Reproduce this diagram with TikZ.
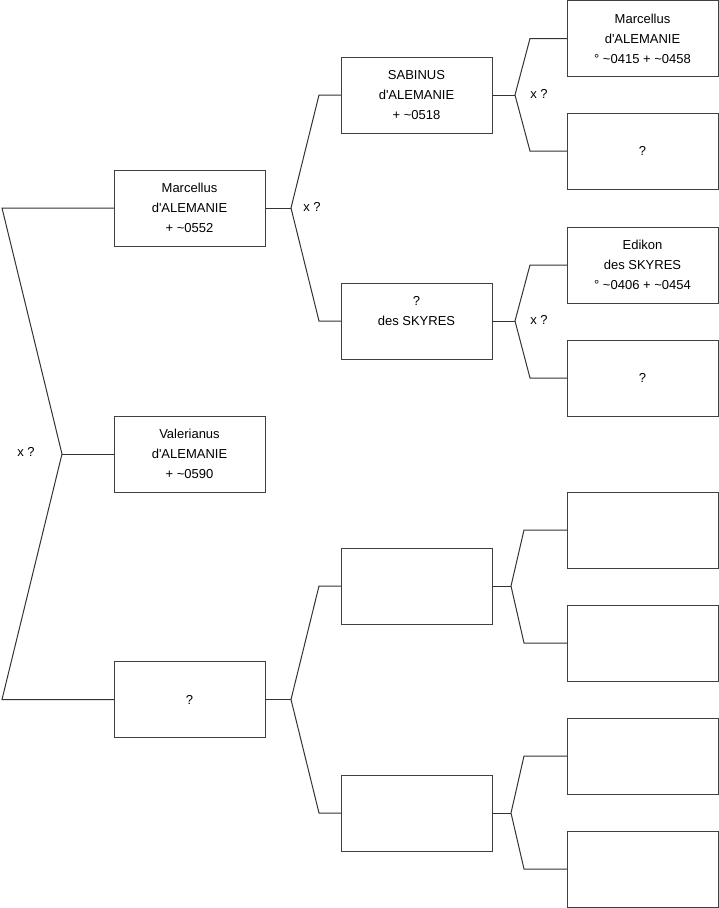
\documentclass[tikz,border=0pt]{standalone}
\usepackage{fontspec}
\setmainfont{Liberation Sans}
\newcommand{\qs}{\textquotesingle}
\begin{document}
\begin{tikzpicture}[x=1pt,y=-1pt,
  person/.style={draw=black!75,line width=1pt,rectangle,minimum width=151pt,minimum height=76pt,inner sep=0pt,outer sep=0pt,align=center,font=\fontsize{13}{20}\selectfont},
  link/.style={draw=black!80,line width=1pt,line join=miter},
  lbl/.style={font=\fontsize{13}{20}\selectfont,inner sep=0pt}]
\useasboundingbox (0,0) rectangle (719,908);
% level 1
\node[person] (m1) at (189.5,208) {Marcellus\\d\qs ALEMANIE\\+ \textasciitilde0552};
\node[person] (v1) at (189.5,454) {Valerianus\\d\qs ALEMANIE\\+ \textasciitilde0590};
\node[person] (q1) at (189.5,699.5) {?};
% level 2
\node[person] (s2) at (416.5,95) {SABINUS\\d\qs ALEMANIE\\+ \textasciitilde0518};
\node[person] (k2) at (416.5,321) {?\\des SKYRES\\\mbox{}};
\node[person] (e2a) at (416.5,586) {};
\node[person] (e2b) at (416.5,813) {};
% level 3
\node[person] (m3) at (642.5,38.5) {Marcellus\\d\qs ALEMANIE\\° \textasciitilde0415 + \textasciitilde0458};
\node[person] (q3a) at (642.5,151) {?};
\node[person] (e3) at (642.5,265) {Edikon\\des SKYRES\\° \textasciitilde0406 + \textasciitilde0454};
\node[person] (q3b) at (642.5,378) {?};
\node[person] (e3a) at (642.5,530) {};
\node[person] (e3b) at (642.5,643) {};
\node[person] (e3c) at (642.5,756) {};
\node[person] (e3d) at (642.5,869) {};
% root fork
\coordinate (r1) at (2,208);
\coordinate (a0) at (62,454);
\coordinate (r2) at (2,699.5);
\draw[link] (m1.west) -- (r1) -- (a0) -- (r2) -- (q1.west);
\draw[link] (a0) -- (v1.west);
\node[lbl] (x0) at (26,452) {x ?};
% fork from m1
\coordinate (f1) at (291,208);
\coordinate (f1u) at (319,95);
\coordinate (f1d) at (319,321);
\draw[link] (m1.east) -- (f1);
\draw[link] (s2.west) -- (f1u) -- (f1) -- (f1d) -- (k2.west);
\node[lbl] (x1) at (312,207) {x ?};
% fork from q1
\coordinate (f2) at (291,699.5);
\coordinate (f2u) at (319,586);
\coordinate (f2d) at (319,813);
\draw[link] (q1.east) -- (f2);
\draw[link] (e2a.west) -- (f2u) -- (f2) -- (f2d) -- (e2b.west);
% fork from s2
\coordinate (f3) at (515,95);
\coordinate (f3u) at (530,38.5);
\coordinate (f3d) at (530,151);
\draw[link] (s2.east) -- (f3);
\draw[link] (m3.west) -- (f3u) -- (f3) -- (f3d) -- (q3a.west);
\node[lbl] (x3) at (539,94) {x ?};
% fork from k2
\coordinate (f4) at (515,321);
\coordinate (f4u) at (530,265);
\coordinate (f4d) at (530,378);
\draw[link] (k2.east) -- (f4);
\draw[link] (e3.west) -- (f4u) -- (f4) -- (f4d) -- (q3b.west);
\node[lbl] (x4) at (539,320) {x ?};
% fork from e2a
\coordinate (f5) at (511,586);
\coordinate (f5u) at (524,530);
\coordinate (f5d) at (524,643);
\draw[link] (e2a.east) -- (f5);
\draw[link] (e3a.west) -- (f5u) -- (f5) -- (f5d) -- (e3b.west);
% fork from e2b
\coordinate (f6) at (511,813);
\coordinate (f6u) at (524,756);
\coordinate (f6d) at (524,869);
\draw[link] (e2b.east) -- (f6);
\draw[link] (e3c.west) -- (f6u) -- (f6) -- (f6d) -- (e3d.west);
\end{tikzpicture}
\end{document}
